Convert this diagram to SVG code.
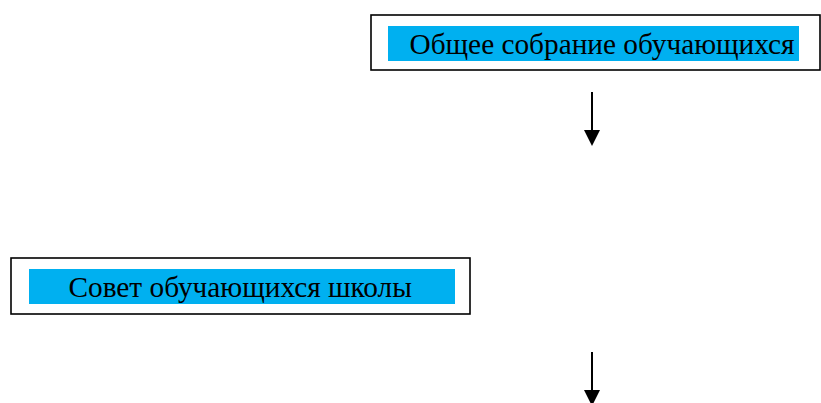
<svg xmlns="http://www.w3.org/2000/svg" width="821" height="403" viewBox="0 0 821 403">
<style>
.frame{fill:#fff;stroke:#000;stroke-width:1.6}
.band{fill:#00b0f0}
.lbl{font-family:"Liberation Serif","Times New Roman",serif;font-size:29.3px;fill:#000}
.conn{stroke:#000;stroke-width:2;fill:none}
.head{fill:#000}
</style>
<rect width="821" height="403" fill="#fff"/>
<g id="node-general-assembly">
<rect class="frame" x="371" y="15" width="449" height="55"/>
<rect class="band" x="388" y="26" width="411" height="35"/>
<text class="lbl" x="409.5" y="54.3">Общее собрание обучающихся</text>
</g>
<g id="node-student-council">
<rect class="frame" x="11" y="258" width="459" height="56"/>
<rect class="band" x="29" y="269" width="426" height="35"/>
<text class="lbl" x="68.5" y="296.7">Совет обучающихся школы</text>
</g>
<g id="connectors">
<line class="conn" x1="592" y1="92" x2="592" y2="131"/>
<polygon class="head" points="584,130 600,130 592,146"/>
<line class="conn" x1="592" y1="352" x2="592" y2="391"/>
<polygon class="head" points="584,390 600,390 592,406"/>
</g>
</svg>
